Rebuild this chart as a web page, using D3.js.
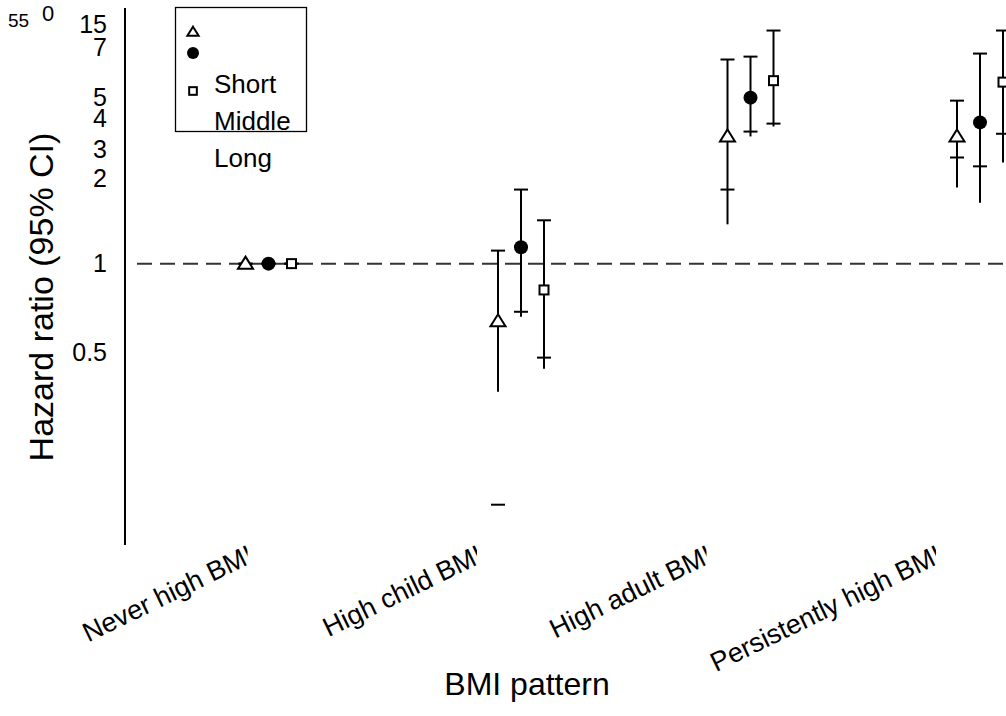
<!DOCTYPE html>
<html>
<head>
<meta charset="utf-8">
<script src="https://cdn.jsdelivr.net/npm/d3@7"></script>
<style>
  body { margin: 0; background: #fff; }
  svg { display: block; font-family: "Liberation Sans", Arial, Helvetica, sans-serif; }
</style>
</head>
<body>
<svg id="chart" width="1006" height="716"></svg>
<script>
// BMI pattern categories and exposure duration groups
const categories = ["Never high BMI", "High child BMI", "High adult BMI", "Persistently high BMI"];
const durations = ["Short", "Middle", "Long"];

// Hazard ratios, one value per category
const hrShort  = [1, 0.63, 2.77, 2.77];
const hrMiddle = [1, 1.14, 3.78, 3.10];
const hrLong   = [1, 0.81, 4.33, 4.28];

// 95% CI limits (capped ends)
const ciLowShort   = [1, 0.145, 1.81, 2.34];
const ciHighShort  = [1, 1.11, 5.13, 3.69];
const ciLowMiddle  = [1, 0.68, 2.88, 2.18];
const ciHighMiddle = [1, 1.81, 5.25, 5.38];
const ciLowLong    = [1, 0.471, 3.07, 2.83];
const ciHighLong   = [1, 1.415, 6.47, 6.47];

// lower end of each whisker stroke
const tailShort  = [1, 0.358, 1.37, 1.84];
const tailMiddle = [1, 0.654, 2.77, 1.63];
const tailLong   = [1, 0.431, 3.0, 2.25];

// y-axis tick labels and the hazard-ratio level each one sits at
const yTickLabels = ["15", "7", "5", "4", "3", "2", "1", "0.5"];
const yTickAt     = [6.8, 5.65, 3.8, 3.2, 2.5, 1.98, 1, 0.49];
const cornerLabels = ["55", "0"];

const referenceHR = 1;

const svg = d3.select("#chart");

const series = [
  { name: durations[0], shape: "triangle", hr: hrShort,  lo: ciLowShort,  hi: ciHighShort,  tail: tailShort },
  { name: durations[1], shape: "circle",   hr: hrMiddle, lo: ciLowMiddle, hi: ciHighMiddle, tail: tailMiddle },
  { name: durations[2], shape: "square",   hr: hrLong,   lo: ciLowLong,   hi: ciHighLong,   tail: tailLong }
];

const x = d3.scalePoint().domain(categories).range([291.5, 980]);
const dodge = d3.scaleLinear().domain([0, 2]).range([-23, 23]);
const y = d3.scaleLog().domain([0.105, 7.75]).range([545, 8]);

// reference category is plotted one slot to the left
const xOf = (ci, si) => x(categories[ci]) + dodge(ci === 0 ? si - 1 : si);

const trianglePath = (s) => `M0,${-7 * s}L${7.5 * s},${5 * s}L${-7.5 * s},${5 * s}Z`;

function drawMarker(g, shape, s) {
  if (shape === "triangle") {
    g.append("path").attr("d", trianglePath(s))
      .attr("fill", "#fff").attr("stroke", "#000").attr("stroke-width", 2);
  } else if (shape === "circle") {
    g.append("circle").attr("r", 7 * s).attr("fill", "#000");
  } else {
    const h = 4.5 * s;
    g.append("rect").attr("x", -h).attr("y", -h).attr("width", 2 * h).attr("height", 2 * h)
      .attr("fill", "#fff").attr("stroke", "#000").attr("stroke-width", 2);
  }
}

// y axis line
svg.append("line")
  .attr("x1", 125).attr("x2", 125)
  .attr("y1", y.range()[1]).attr("y2", y.range()[0])
  .attr("stroke", "#000").attr("stroke-width", 2);

// y tick labels
svg.append("g").selectAll("text")
  .data(yTickLabels)
  .join("text")
  .attr("x", 107)
  .attr("y", (d, i) => y(yTickAt[i]))
  .attr("dy", "0.35em")
  .attr("text-anchor", "end")
  .attr("font-size", 25)
  .text(d => d);

svg.append("text").attr("x", 8).attr("y", 27).attr("font-size", 19).text(cornerLabels[0]);
svg.append("text").attr("x", 42).attr("y", 21).attr("font-size", 22).text(cornerLabels[1]);

// reference line at HR = 1
svg.append("line")
  .attr("x1", 137).attr("x2", 1006)
  .attr("y1", y(referenceHR)).attr("y2", y(referenceHR))
  .attr("stroke", "#333").attr("stroke-width", 2)
  .attr("stroke-dasharray", "15 8");

// error bars and markers
const capHalf = 7;
series.forEach((s, si) => {
  const g = svg.append("g");
  categories.forEach((c, ci) => {
    const cx = xOf(ci, si);
    g.append("line")
      .attr("x1", cx).attr("x2", cx)
      .attr("y1", y(s.hi[ci])).attr("y2", y(s.tail[ci]))
      .attr("stroke", "#000").attr("stroke-width", 2);
    [s.hi[ci], s.lo[ci]].forEach(v => {
      g.append("line")
        .attr("x1", cx - capHalf).attr("x2", cx + capHalf)
        .attr("y1", y(v)).attr("y2", y(v))
        .attr("stroke", "#000").attr("stroke-width", 2);
    });
  });
  categories.forEach((c, ci) => {
    const m = g.append("g").attr("transform", `translate(${xOf(ci, si)},${y(s.hr[ci])})`);
    drawMarker(m, s.shape, 1);
  });
});

// x tick labels, rotated and clipped at their right edge
const defs = svg.append("defs");
categories.forEach((c, ci) => {
  const cut = x(c) - 44;
  defs.append("clipPath").attr("id", "lab" + ci)
    .append("rect").attr("x", 0).attr("y", 0).attr("width", cut).attr("height", 716);
  svg.append("g").attr("clip-path", `url(#lab${ci})`)
    .append("text")
    .attr("transform", `translate(${x(c) - 36},561) rotate(-26)`)
    .attr("text-anchor", "end")
    .attr("font-size", 27)
    .text(c);
});

// legend
const legend = svg.append("g");
legend.append("rect")
  .attr("x", 175.5).attr("y", 7.5).attr("width", 131).attr("height", 124)
  .attr("fill", "none").attr("stroke", "#000").attr("stroke-width", 1.3);
const legendMarkerY = [32, 53, 91];
const legendScale = { triangle: 0.75, circle: 0.86, square: 0.85 };
series.forEach((s, si) => {
  const m = legend.append("g").attr("transform", `translate(193,${legendMarkerY[si]})`);
  drawMarker(m, s.shape, legendScale[s.shape]);
});
legend.selectAll("text.lg")
  .data(durations)
  .join("text")
  .attr("class", "lg")
  .attr("x", 214)
  .attr("y", (d, i) => 93 + i * 37)
  .attr("font-size", 26)
  .text(d => d);

// axis titles
svg.append("text")
  .attr("transform", "translate(53,297) rotate(-90)")
  .attr("text-anchor", "middle")
  .attr("font-size", 34)
  .text("Hazard ratio (95% CI)");

svg.append("text")
  .attr("x", 527).attr("y", 695)
  .attr("text-anchor", "middle")
  .attr("font-size", 32)
  .text("BMI pattern");
</script>
</body>
</html>
